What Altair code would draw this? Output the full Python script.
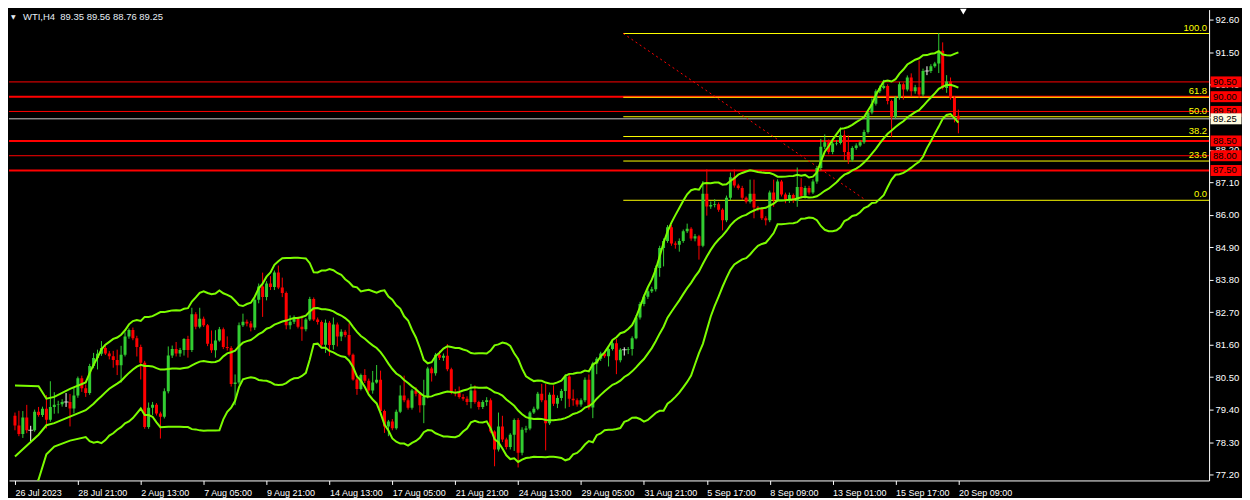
import json
import pandas as pd
import altair as alt

# WTI H4 candles, bar 0 = 26 Jul 2023 00:00, one bar every 4 hours
first_open = 79.19
closes = [78.86, 78.57, 79.13, 78.70, 78.70, 79.33, 79.22, 79.43, 79.06, 79.49,
          79.56, 79.58, 79.66, 79.66, 79.44, 79.88, 80.46, 80.12, 79.96, 80.88,
          81.15, 81.29, 81.49, 81.30, 81.21, 81.08, 80.90, 81.26, 81.88, 82.10,
          81.82, 81.52, 80.99, 78.81, 79.46, 79.56, 79.27, 79.16, 80.02, 81.23,
          81.45, 81.30, 81.42, 81.79, 81.42, 82.63, 82.21, 82.48, 82.26, 81.63,
          81.41, 81.74, 82.12, 81.52, 81.49, 80.27, 80.32, 82.26, 82.38, 82.32,
          82.18, 83.12, 83.57, 83.21, 83.67, 83.55, 84.04, 83.54, 83.35, 82.26,
          82.38, 82.47, 82.21, 82.12, 82.45, 83.15, 82.45, 82.37, 81.60, 82.34,
          81.59, 82.28, 81.88, 82.04, 81.93, 81.26, 80.42, 80.10, 80.57, 80.38,
          80.05, 80.32, 80.41, 79.35, 78.83, 79.00, 78.77, 79.33, 79.88, 79.72,
          79.46, 80.05, 79.94, 79.55, 79.83, 80.79, 80.63, 81.26, 81.16, 81.22,
          80.77, 79.99, 79.96, 79.83, 79.77, 79.66, 80.05, 79.66, 79.49, 79.66,
          79.72, 78.66, 78.05, 78.83, 78.39, 78.13, 78.55, 79.05, 77.94, 78.72,
          78.76, 79.30, 79.43, 79.94, 79.72, 78.94, 79.90, 79.60, 79.79, 80.03,
          80.52, 79.77, 79.72, 79.57, 79.72, 80.41, 79.47, 80.96, 81.12, 81.30,
          81.21, 81.45, 81.65, 81.07, 81.43, 81.43, 81.45, 81.82, 82.52, 82.98,
          83.22, 83.41, 83.48, 84.20, 84.87, 85.11, 85.58, 85.03, 84.98, 85.11,
          85.44, 85.53, 85.20, 85.27, 84.95, 86.71, 86.28, 86.33, 86.36, 86.17,
          85.81, 86.58, 87.27, 86.99, 86.91, 86.58, 86.44, 86.71, 86.25, 86.20,
          85.88, 85.81, 86.75, 86.50, 87.13, 86.69, 86.47, 86.67, 86.47, 86.94,
          86.64, 86.91, 86.75, 87.13, 87.58, 88.30, 88.46, 88.13, 88.41, 88.43,
          88.69, 88.13, 87.86, 88.26, 88.35, 88.46, 88.80, 89.46, 89.76, 90.18,
          90.29, 90.36, 89.85, 89.32, 89.96, 90.42, 90.24, 90.65, 90.18, 90.32,
          90.07, 90.87, 90.87, 91.03, 91.12, 91.56, 90.29, 90.51, 89.96, 89.35,
          89.25]
highs = [79.30, 79.36, 79.35, 79.56, 78.85, 79.40, 79.49, 79.50, 79.89, 80.36,
         79.99, 79.70, 79.75, 79.96, 79.93, 80.16, 80.52, 80.55, 80.25, 80.95,
         81.32, 81.43, 81.72, 81.60, 81.38, 81.39, 81.43, 81.56, 82.02, 82.15,
         82.18, 81.90, 81.60, 81.05, 79.64, 79.66, 79.62, 79.33, 80.12, 81.54,
         81.57, 81.69, 81.49, 81.82, 81.90, 82.85, 82.70, 82.85, 82.55, 82.30,
         82.08, 82.09, 82.20, 82.18, 81.88, 81.55, 80.59, 82.35, 82.65, 82.45,
         82.40, 83.20, 83.67, 84.04, 83.75, 83.92, 84.11, 84.28, 83.87, 83.40,
         82.59, 82.59, 82.55, 82.59, 82.50, 83.22, 83.20, 82.52, 82.42, 82.45,
         82.40, 82.52, 82.35, 82.12, 82.10, 82.32, 81.30, 80.48, 80.62, 80.77,
         80.45, 80.71, 80.91, 80.72, 79.40, 79.05, 79.08, 79.40, 80.22, 80.55,
         79.78, 80.10, 80.16, 80.00, 80.41, 80.85, 80.85, 81.32, 81.39, 81.30,
         81.62, 80.82, 80.10, 80.18, 79.92, 79.85, 80.27, 80.22, 79.70, 79.72,
         79.82, 79.78, 78.70, 79.30, 79.19, 78.45, 78.60, 79.10, 79.11, 78.80,
         78.85, 79.35, 79.50, 80.00, 80.27, 80.27, 79.98, 80.22, 79.88, 80.10,
         80.60, 80.60, 80.08, 79.78, 79.78, 80.49, 80.59, 81.02, 81.18, 81.36,
         81.35, 81.50, 81.72, 81.79, 81.48, 81.51, 81.52, 81.88, 82.60, 83.05,
         83.30, 83.50, 83.56, 84.28, 84.95, 85.20, 85.65, 85.65, 85.10, 85.20,
         85.50, 85.70, 85.58, 85.35, 85.32, 87.14, 87.54, 86.45, 86.53, 86.42,
         86.22, 86.65, 87.43, 87.54, 87.05, 86.98, 86.62, 87.19, 87.19, 86.30,
         86.25, 85.95, 86.82, 87.19, 87.20, 87.18, 86.75, 86.75, 86.72, 87.60,
         87.24, 86.98, 86.98, 87.20, 87.65, 88.57, 88.72, 88.55, 88.48, 88.52,
         88.96, 88.86, 88.69, 88.32, 88.42, 88.52, 88.88, 89.52, 89.94, 90.25,
         90.38, 90.57, 90.42, 89.90, 90.02, 90.50, 90.48, 90.72, 90.79, 90.40,
         91.23, 90.95, 91.03, 91.10, 91.18, 92.15, 91.84, 90.73, 90.65, 90.02,
         89.56]
lows = [78.70, 78.50, 78.44, 78.60, 78.33, 78.65, 79.16, 79.15, 78.76, 78.99,
        79.26, 79.27, 79.50, 79.49, 78.83, 79.27, 79.80, 80.00, 79.83, 79.90,
        80.80, 80.76, 81.22, 81.25, 81.10, 80.82, 80.57, 80.32, 81.20, 81.80,
        81.75, 81.20, 80.42, 78.75, 78.75, 79.22, 79.20, 78.42, 79.10, 79.95,
        81.15, 81.20, 81.19, 81.23, 81.16, 81.35, 82.12, 82.15, 82.20, 81.55,
        81.32, 81.16, 81.70, 81.45, 81.40, 80.18, 79.55, 80.25, 82.20, 82.22,
        82.05, 82.10, 83.00, 82.54, 83.10, 83.45, 83.45, 83.48, 83.21, 82.12,
        82.12, 82.30, 82.15, 81.73, 82.05, 82.40, 82.40, 82.28, 81.49, 81.32,
        81.22, 81.43, 81.54, 81.72, 81.85, 81.20, 80.38, 79.90, 80.05, 80.30,
        79.97, 79.94, 80.28, 79.30, 78.61, 78.50, 78.70, 78.72, 79.28, 79.65,
        79.40, 79.40, 79.85, 79.30, 78.94, 79.78, 80.35, 80.55, 81.08, 81.05,
        80.70, 79.92, 79.85, 79.77, 79.70, 79.55, 79.44, 79.60, 79.40, 79.42,
        79.53, 78.60, 77.48, 77.98, 78.30, 78.05, 78.05, 78.00, 77.44, 77.85,
        78.62, 78.70, 79.25, 79.38, 79.65, 78.02, 78.88, 79.52, 79.45, 79.70,
        79.44, 79.49, 79.53, 79.50, 79.50, 79.65, 79.40, 79.11, 80.60, 81.05,
        81.15, 80.86, 81.40, 80.60, 81.00, 81.23, 81.28, 81.23, 81.78, 82.45,
        82.90, 83.15, 83.35, 83.40, 83.90, 84.25, 85.05, 84.95, 84.85, 84.75,
        85.05, 85.38, 85.12, 85.10, 84.48, 84.90, 85.97, 86.20, 86.25, 86.10,
        85.47, 85.75, 86.50, 86.92, 86.85, 86.50, 86.38, 86.38, 85.88, 86.12,
        85.82, 85.64, 85.75, 86.27, 86.45, 86.62, 86.39, 86.40, 86.40, 86.27,
        86.55, 86.55, 86.68, 86.70, 87.05, 87.50, 88.22, 88.05, 88.05, 88.35,
        88.38, 87.85, 87.72, 87.80, 88.20, 88.30, 88.40, 88.75, 89.40, 89.70,
        90.12, 90.25, 89.74, 88.63, 89.25, 89.90, 89.90, 90.18, 90.02, 90.10,
        89.96, 90.00, 90.73, 90.80, 90.98, 90.80, 90.24, 90.13, 89.90, 89.13,
        88.76]

# Bollinger band values for the first bars (history before 26 Jul not shown)
early_bb_bars = [0, 6, 8, 10, 14, 18]
early_upper = [80.22, 80.19, 79.77, 79.83, 80.10, 80.32]
early_middle = [77.81, 78.55, 78.87, 78.94, 79.16, 79.38]
early_lower = [75.40, 77.03, 77.89, 78.15, 78.35, 78.47]

date_labels = ['26 Jul 2023', '28 Jul 21:00', '2 Aug 13:00', '7 Aug 05:00', '9 Aug 21:00',
               '14 Aug 13:00', '17 Aug 05:00', '21 Aug 21:00', '24 Aug 13:00', '29 Aug 05:00',
               '31 Aug 21:00', '5 Sep 17:00', '8 Sep 09:00', '13 Sep 01:00', '15 Sep 17:00',
               '20 Sep 09:00']
price_ticks = [77.20, 78.30, 79.40, 80.50, 81.60, 82.70, 83.80, 84.90, 86.00,
               87.10, 88.20, 89.30, 90.40, 91.50, 92.60]

thin_levels = [90.50, 89.50, 88.00]
thick_levels = [90.00, 88.50, 87.50]
last_price = 89.25

fib_names = ['100.0', '61.8', '50.0', '38.2', '23.6', '0.0']
fib_prices = [92.14, 89.98, 89.32, 88.65, 87.82, 86.49]
fib_start_bar = 154.75
trend_bars = [154.75, 216.5]
trend_prices = [92.14, 86.49]
shift_bar = 241.25

W, H = 1203, 472
GREEN, RED, BAND = '#32cd32', '#ff0000', '#7cfc00'
FONT = 'Liberation Sans'

opens = [first_open] + closes[:-1]
n = len(closes)
candles = pd.DataFrame({'i': range(n), 'open': opens, 'high': highs, 'low': lows, 'close': closes})
candles['dir'] = ['up' if c > o else ('down' if c < o else 'flat') for o, c in zip(opens, closes)]

roll = candles['close'].rolling(20)
mid = roll.mean()
sd = roll.std(ddof=0)
bb = pd.DataFrame({'i': range(n), 'upper': mid + 2 * sd, 'middle': mid, 'lower': mid - 2 * sd}).iloc[19:]
early = pd.DataFrame({'i': early_bb_bars, 'upper': early_upper, 'middle': early_middle, 'lower': early_lower})
bands = pd.concat([early, bb]).melt('i', var_name='band', value_name='price')

xs = alt.Scale(domain=[-0.25, 302.5], nice=False, zero=False)
ys = alt.Scale(domain=[77.0, 92.95], nice=False, zero=False)
label_expr = json.dumps(date_labels) + '[round(datum.value / 16)]'
x_axis = alt.Axis(values=list(range(0, 241, 16)), labelExpr=label_expr, labelAlign='left',
                  labelBaseline='top', labelPadding=4, labelFlush=False, labelOverlap=False,
                  labelBound=False, tickSize=4, labelFontSize=9, title=None)
y_axis = alt.Axis(orient='right', values=price_ticks, format='.2f', tickSize=4, labelPadding=2,
                  labelFontSize=9.5, title=None)


def X(field):
    return alt.X(field, scale=xs, axis=x_axis)


def Y(field):
    return alt.Y(field, scale=ys, axis=y_axis)


dir_color = alt.Color('dir:N', scale=alt.Scale(domain=['up', 'down', 'flat'], range=[GREEN, RED, '#ffffff']), legend=None)

wicks = alt.Chart(candles).mark_rule(strokeWidth=1, clip=True).encode(
    x=X('i:Q'), y=Y('low:Q'), y2='high:Q', color=dir_color)

bodies = alt.Chart(candles).mark_bar(width=3, clip=True).encode(
    x=X('i:Q'), y=Y('open:Q'), y2='close:Q', color=dir_color)

dojis = alt.Chart(candles).mark_tick(orient='horizontal', size=5, thickness=1, color='white', clip=True).encode(
    x=X('i:Q'), y=Y('close:Q')).transform_filter(alt.datum.dir == 'flat')

thin = alt.Chart(pd.DataFrame({'p': thin_levels})).mark_rule(color=RED, strokeWidth=1).encode(y=Y('p:Q'))
thick = alt.Chart(pd.DataFrame({'p': thick_levels})).mark_rule(color=RED, strokeWidth=2).encode(y=Y('p:Q'))
price_line = alt.Chart(pd.DataFrame({'p': [last_price]})).mark_rule(color='#c8c8c8', strokeWidth=1).encode(y=Y('p:Q'))

fib = pd.DataFrame({'name': fib_names, 'p': fib_prices, 'start': fib_start_bar})
fib_lines = alt.Chart(fib).mark_rule(color='#ffff00', strokeWidth=1).encode(
    x=X('start:Q'), x2=alt.value(W), y=Y('p:Q'))
fib_text = alt.Chart(fib).mark_text(color='#ffff00', align='right', baseline='bottom', dy=-1,
                                    font=FONT, fontSize=9.5).encode(
    x=alt.value(W - 2), y=Y('p:Q'), text='name:N')

trend = alt.Chart(pd.DataFrame({'i': trend_bars, 'p': trend_prices})).mark_line(
    color=RED, strokeWidth=1, strokeDash=[2, 3]).encode(x=X('i:Q'), y=Y('p:Q'))

band_lines = alt.Chart(bands).mark_line(color=BAND, strokeWidth=2, clip=True).encode(
    x=X('i:Q'), y=Y('price:Q'), detail='band:N')

boxed = pd.DataFrame({'p': thin_levels + thick_levels})
red_boxes = alt.Chart(boxed).mark_tick(orient='horizontal', size=31, thickness=11, color=RED, opacity=1).encode(
    x=alt.value(W + 17), y=Y('p:Q'))
red_text = alt.Chart(boxed).mark_text(color='black', align='left', baseline='middle', font=FONT, fontSize=9.5).encode(
    x=alt.value(W + 4), y=Y('p:Q'), text=alt.Text('p:Q', format='.2f'))
last_df = pd.DataFrame({'p': [last_price]})
last_box = alt.Chart(last_df).mark_tick(orient='horizontal', size=31, thickness=11, color='#fffbe0', opacity=1).encode(
    x=alt.value(W + 17), y=Y('p:Q'))
last_text = alt.Chart(last_df).mark_text(color='black', align='left', baseline='middle', font=FONT, fontSize=9.5).encode(
    x=alt.value(W + 4), y=Y('p:Q'), text=alt.Text('p:Q', format='.2f'))

header = 'WTI,H4\u00a0\u00a0%.2f %.2f %.2f %.2f' % (opens[-1], highs[-1], lows[-1], closes[-1])
head = alt.Chart(pd.DataFrame({'t': [header]})).mark_text(
    color='#e6eef5', align='left', baseline='middle', font=FONT, fontSize=9.5).encode(
    x=alt.value(14), y=alt.value(7), text='t:N')
arrow = alt.Chart(pd.DataFrame({'t': ['▼']})).mark_text(
    color='#e6eef5', align='left', baseline='middle', font='DejaVu Sans', fontSize=6).encode(
    x=alt.value(2), y=alt.value(7), text='t:N')
shift = alt.Chart(pd.DataFrame({'i': [shift_bar]})).mark_point(
    shape='triangle-down', filled=True, color='white', size=45, opacity=1).encode(
    x=X('i:Q'), y=alt.value(2))

chart = alt.layer(
    thin, thick, price_line, fib_lines, fib_text, trend,
    wicks, bodies, dojis, band_lines,
    red_boxes, red_text, last_box, last_text, head, arrow, shift
).properties(
    width=W, height=H, background='black', padding=0
).configure_view(stroke=None).configure_axis(
    grid=False, domainColor='white', tickColor='white', labelColor='white',
    labelFont=FONT, domainWidth=1, tickWidth=1
)

chart.save("out.html", embed_options={"renderer": "svg", "actions": False})
